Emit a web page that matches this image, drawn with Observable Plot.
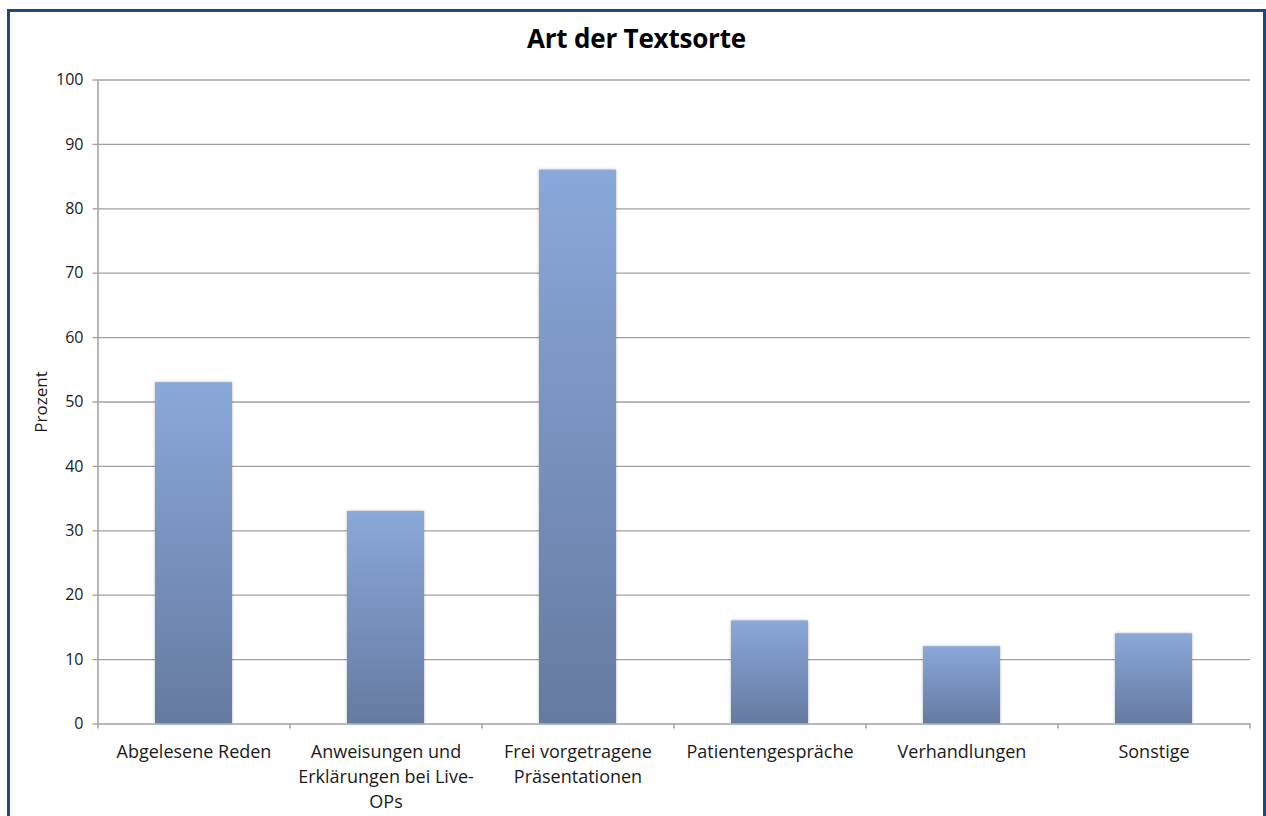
<!DOCTYPE html>
<html>
<head>
<meta charset="utf-8">
<script src="https://cdn.jsdelivr.net/npm/d3@7"></script>
<script src="https://cdn.jsdelivr.net/npm/@observablehq/plot@0.6"></script>
<style>
  html, body { margin: 0; padding: 0; background: #fff; overflow: hidden; }
  #wrap { position: relative; width: 1266px; height: 816px; overflow: hidden; background: #fff; }
  #border { position: absolute; left: 7px; top: 9px; width: 1259px; height: 830px; box-sizing: border-box; border: 3px solid #1f497d; pointer-events: none; }
  #title { position: absolute; left: 7px; width: 1259px; top: 25px; line-height: 26px; text-align: center; font-family: "Open Sans", sans-serif; font-weight: bold; font-size: 26px; letter-spacing: -0.2px; color: #000; }
  #chart { position: absolute; left: 0; top: 0; }
  .bar rect { filter: drop-shadow(0 0 1.5px rgba(0,0,0,0.3)); }
</style>
</head>
<body>
<div id="wrap">
  <div id="chart"></div>
  <div id="title">Art der Textsorte</div>
  <div id="border"></div>
</div>
<script>
const categories = ["Abgelesene Reden", "Anweisungen und Erklärungen bei Live-OPs", "Frei vorgetragene Präsentationen", "Patientengespräche", "Verhandlungen", "Sonstige"];
const xLabels = ["Abgelesene Reden", "Anweisungen und\nErklärungen bei Live-\nOPs", "Frei vorgetragene\nPräsentationen", "Patientengespräche", "Verhandlungen", "Sonstige"];
const values = [53, 33, 86, 16, 12, 14];
const yTicks = [0, 10, 20, 30, 40, 50, 60, 70, 80, 90, 100];
const yLabel = "Prozent";

const data = categories.map((c, i) => ({category: c, value: values[i], label: xLabels[i]}));

const W = 1266, H = 816;
const mL = 97.5, mR = 16, mT = 79.5, mB = 92.5;
const plotW = W - mL - mR;
const step = plotW / categories.length;
const font = "'Open Sans', sans-serif";
const grid = "#a0a0a0";
const ink = "#1a1a1a";

const svg = Plot.plot({
  width: W,
  height: H,
  marginLeft: mL,
  marginRight: mR,
  marginTop: mT,
  marginBottom: mB,
  style: {fontFamily: font, fontSize: "16px", color: ink, background: "transparent"},
  x: {domain: categories, paddingInner: 0.6, paddingOuter: 0.3, axis: null},
  y: {domain: [0, 100], axis: null},
  marks: [
    // horizontal grid lines
    Plot.ruleY(yTicks.filter(d => d > 0), {stroke: grid, strokeWidth: 1.3}),
    // y tick marks
    Plot.ruleY(yTicks, {stroke: grid, strokeWidth: 1.3, insetLeft: -5, insetRight: plotW}),
    // y tick labels
    Plot.text(yTicks, {x: () => categories[0], y: d => d, text: d => String(d), textAnchor: "end", dx: -step / 2 - 14.5, fontSize: 16, fill: ink}),
    // bars
    Plot.barY(data, {x: "category", y: "value", fill: "url(#barGrad)", className: "bar"}),
    // left axis line
    Plot.ruleX([categories[0]], {dx: -step / 2, stroke: grid, strokeWidth: 1.5}),
    // bottom axis line
    Plot.ruleY([0], {stroke: grid, strokeWidth: 1.5}),
    // x tick marks at band boundaries
    Plot.ruleX(categories, {x: d => d, y1: 0, y2: 0, insetBottom: -5, dx: -step / 2, stroke: grid, strokeWidth: 1.5}),
    Plot.ruleX([categories[categories.length - 1]], {x: d => d, y1: 0, y2: 0, insetBottom: -5, dx: step / 2, stroke: grid, strokeWidth: 1.5}),
    // x tick labels
    Plot.text(data, {x: "category", y: () => 0, text: "label", lineAnchor: "top", dy: 16, lineHeight: 1.39, fontSize: 18, fill: ink}),
    // y axis label
    Plot.text([yLabel], {x: () => categories[0], y: () => 50, text: d => d, rotate: -90, dx: -step / 2 - 56, fontSize: 17, fill: ink})
  ]
});

const ns = "http://www.w3.org/2000/svg";
const defs = document.createElementNS(ns, "defs");
defs.innerHTML = `<linearGradient id="barGrad" x1="0" y1="0" x2="0" y2="1">
  <stop offset="0%" stop-color="#8aa8da"/>
  <stop offset="100%" stop-color="#657aa1"/>
</linearGradient>`;
svg.insertBefore(defs, svg.firstChild);
document.getElementById("chart").appendChild(svg);
</script>
</body>
</html>
